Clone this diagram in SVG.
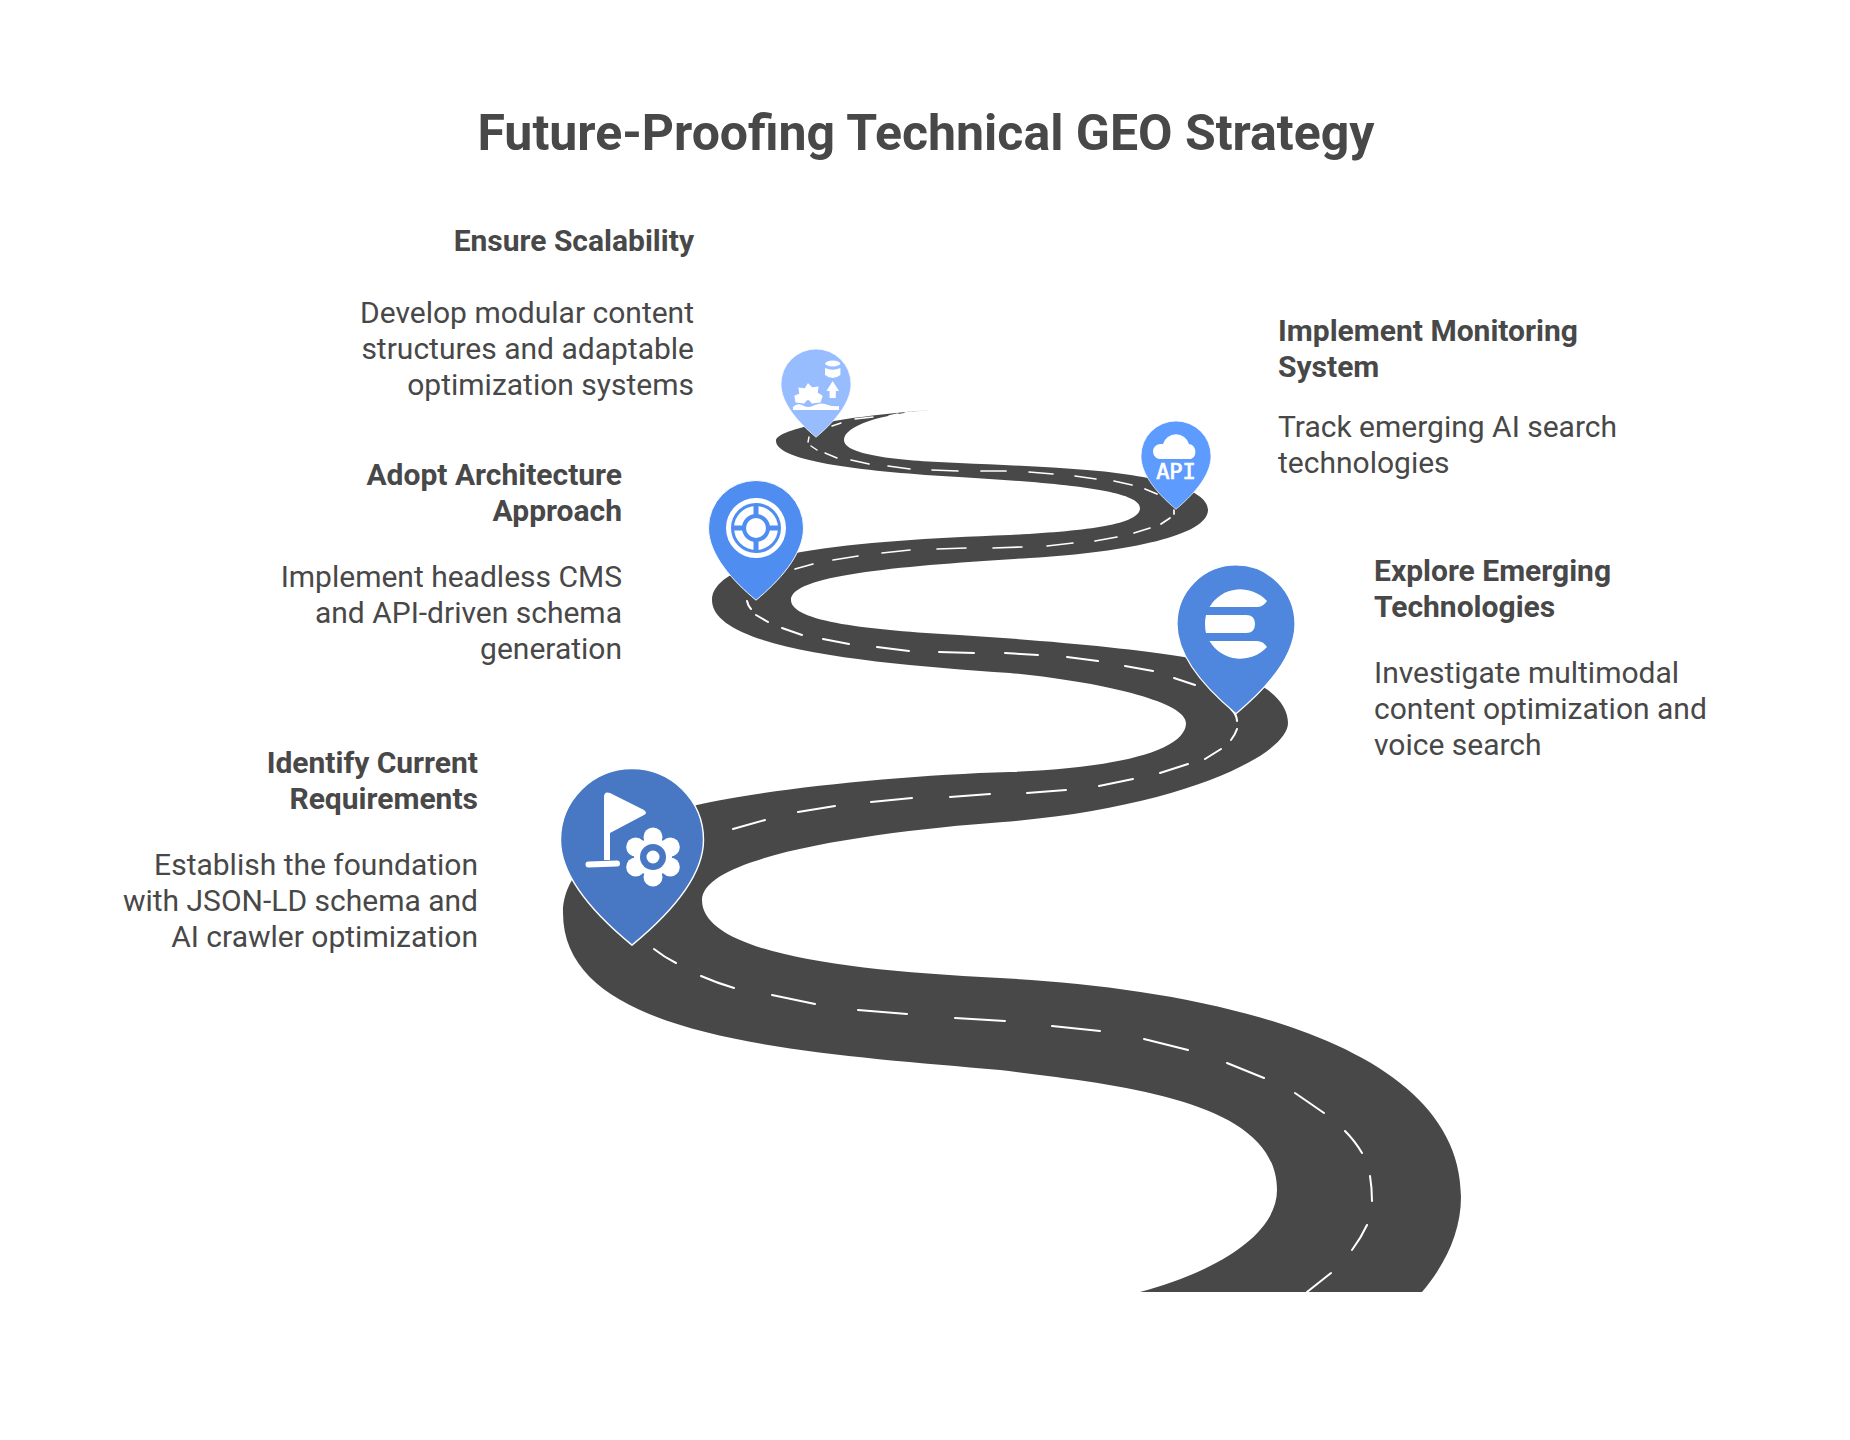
<svg xmlns="http://www.w3.org/2000/svg" width="1850" height="1440" viewBox="0 0 1850 1440">
<style>
text{font-family:Roboto,"Liberation Sans",sans-serif;fill:#484848}
.title{font-size:50px;font-weight:700;text-anchor:middle}
.h{font-size:30px;font-weight:700}
.b{font-size:30px;font-weight:400}
.e{text-anchor:end}
.road{fill:#484848}
.dash{fill:none;stroke:#fff;stroke-linecap:round}
.pin{stroke:#fff;stroke-width:2;vector-effect:non-scaling-stroke}
.w{fill:#fff}
</style>
<defs>
<path id="pinShape" d="M0,147 C45,110 100,55 100,0 A100,100 0 0 0 -100,0 C-100,55 -45,110 0,147Z"/>
<path id="pinShapeB" d="M0,152 C47,113 100,57 100,0 A100,100 0 0 0 -100,0 C-100,57 -47,113 0,152Z"/>
</defs>
<rect width="1850" height="1440" fill="#fff"/>
<text class="title" x="926" y="150">Future-Proofing Technical GEO Strategy</text>

<g id="connectors">
<path class="road" d="M931,410 C880,414 844,426 844,440 C844,456 905,461 959,463 C1005,465 1050,467 1087,470 C1150,475 1208,488 1208,510 C1208,535 1130,552 1030,558 C900,566 791,575 791,600 C791,622 870,630 959,635 C1040,640 1130,648 1184,657 C1250,672 1288,695 1288,723 C1288,755 1180,808 1003,822 C880,831 702,855 702,900 C702,950 830,970 1000,978 C1200,988 1461,1040 1461,1197 C1461,1232 1445,1265 1422,1292 L1140,1292 C1215,1272 1277,1235 1277,1190 C1277,1100 1120,1085 1000,1070 C800,1052 563,1040 563,913 C563,860 630,822 697,805 C760,790 900,775 1010,772 C1120,768 1186,750 1186,723 C1186,703 1110,683 1010,673 C880,664 712,650 712,600 C712,575 760,560 801,552 C860,542 930,538 1010,535 C1085,531 1140,525 1140,508 C1140,490 1060,483 959,477 C870,472 776,462 776,441 C776,428 850,416 931,410Z"/>
<path class="dash" stroke-width="1.4" d="M832,426L841,423M855,419L873,417M889,416L898,414M905,413L912,412M809,437L808,442M811,446L817,450M825,453L837,458"/>
<path class="dash" stroke-width="1.7" d="M851,460L869,464M888,466L910,469M932,470L958,471M981,471L1006,471M1029,472L1053,474M1075,476L1096,479M1114,481L1132,485M1145,489L1157,494M1174,510L1174,514M1170,518L1161,524M1150,528L1134,533M1117,537L1095,541M1073,543L1047,546M1022,547L993,548M966,548L937,549M910,550L882,553M858,556L833,560M813,564L795,569"/>
<path class="dash" stroke-width="2" d="M747,601Q748,606 751,609M756,615L768,622M782,628L802,635M823,639L849,644M877,647L909,651M939,652L974,653M1005,653L1038,655M1067,657L1098,661M1125,666L1153,671M1174,678L1195,685M1231,709Q1237,715 1237,721M1237,729Q1235,735 1231,740M1221,749L1205,759M1188,764L1160,773M1133,779L1099,786M1066,790L1027,793"/>
<path class="dash" stroke-width="2" d="M990,794L950,797M912,798L871,802M835,806L798,812M765,820L733,829M654,949Q664,957 676,963M701,976Q717,983 734,988M772,995L815,1004M858,1010L907,1014M955,1018L1005,1021M1052,1026L1100,1031M1144,1039L1188,1050M1227,1063L1264,1078M1295,1093L1324,1113M1345,1131Q1355,1141 1362,1153M1370,1176Q1372,1188 1372,1201M1367,1225Q1361,1238 1352,1250M1331,1273L1307,1292"/>
</g>

<g id="node-ensure-scalability">
<use href="#pinShapeB" class="pin" fill="#97BDFF" transform="translate(816,384) scale(.35)"/>
<ellipse class="w" cx="832.7" cy="363.5" rx="7.5" ry="3"/>
<path class="w" d="M825,368Q832.7,371.5 840.4,368V375Q832.7,381 825,375Z"/>
<path class="w" d="M832.7,381L839,391H835.8V398H829.6V391H826.4Z"/>
<path class="w" stroke="#fff" stroke-width="1.2" stroke-linejoin="round" d="M795,396L800,394L799,388L805,389L808,384L812,388L818,387L817,393L822,396L820,402L812,403Q808,396 804,403L796,402Z"/>
<path class="w" d="M793,410V407Q797,403 802,405Q808,409 815,405Q822,402 828,405Q834,407 839,406V410Z"/>
<text class="h e" x="694" y="251">Ensure Scalability</text>
<text class="b e" x="694" y="323">Develop modular content</text>
<text class="b e" x="694" y="359">structures and adaptable</text>
<text class="b e" x="694" y="395">optimization systems</text>
</g>

<g id="node-implement-monitoring">
<use href="#pinShapeB" class="pin" fill="#5E9BFF" transform="translate(1176,456) scale(.35)"/>
<path class="w" d="M1161,459A7.5,7.5 0 0 1 1160,444Q1162,444 1163,444A13.5,13.5 0 0 1 1189,444A8,8 0 0 1 1191,459Z"/>
<text x="1176" y="478.5" text-anchor="middle" style="font-family:'DejaVu Sans Mono',monospace;font-size:22px;font-weight:400;fill:#fff;stroke:#fff;stroke-width:.7">API</text>
<text class="h" x="1278" y="341">Implement Monitoring</text>
<text class="h" x="1278" y="377">System</text>
<text class="b" x="1278" y="437">Track emerging AI search</text>
<text class="b" x="1278" y="473">technologies</text>
</g>

<g id="node-adopt-architecture">
<use href="#pinShapeB" class="pin" fill="#4F8DF0" transform="translate(756,528) scale(.475)"/>
<circle cx="756" cy="528" r="27.5" fill="none" stroke="#fff" stroke-width="5"/>
<circle class="w" cx="756" cy="528" r="22"/>
<path d="M756,505V551M733,528H779" stroke="#4F8DF0" stroke-width="5" fill="none"/>
<circle cx="756" cy="528" r="14" fill="#4F8DF0"/>
<circle class="w" cx="756" cy="528" r="10"/>
<text class="h e" x="622" y="485">Adopt Architecture</text>
<text class="h e" x="622" y="521">Approach</text>
<text class="b e" x="622" y="587">Implement headless CMS</text>
<text class="b e" x="622" y="623">and API-driven schema</text>
<text class="b e" x="622" y="659">generation</text>
</g>

<g id="node-explore-emerging">
<use href="#pinShapeB" class="pin" fill="#4F86DE" transform="translate(1236,624) scale(.59)"/>
<path class="w" d="M1209.5,607A36,36 0 0 1 1267,601Q1263,607 1257,607Z"/>
<path class="w" d="M1206,615H1246Q1255,615 1255,624Q1255,633 1246,633H1206Q1204,624 1206,615Z"/>
<path class="w" d="M1209.5,641H1257Q1263,641 1267,647A36,36 0 0 1 1209.5,641Z"/>
<text class="h" x="1374" y="581">Explore Emerging</text>
<text class="h" x="1374" y="617">Technologies</text>
<text class="b" x="1374" y="683">Investigate multimodal</text>
<text class="b" x="1374" y="719">content optimization and</text>
<text class="b" x="1374" y="755">voice search</text>
</g>

<g id="node-identify-requirements">
<use href="#pinShape" class="pin" fill="#4878C4" transform="translate(632,840) scale(.715)"/>
<path class="w" d="M604,797Q604,791 610,793L644,810Q648,813 644,815L610,833V860H604Z"/>
<path d="M588.5,864.5L617,863.5" stroke="#fff" stroke-width="6" stroke-linecap="round" fill="none"/>
<g class="w">
<circle cx="653" cy="857" r="19"/>
<circle cx="653" cy="837" r="9.5"/><circle cx="653" cy="877" r="9.5"/>
<circle cx="635.7" cy="847" r="9.5"/><circle cx="670.3" cy="847" r="9.5"/>
<circle cx="635.7" cy="867" r="9.5"/><circle cx="670.3" cy="867" r="9.5"/>
</g>
<circle cx="653" cy="857" r="13" fill="#4878C4"/>
<circle class="w" cx="653" cy="857" r="6.5"/>
<text class="h e" x="478" y="773">Identify Current</text>
<text class="h e" x="478" y="809">Requirements</text>
<text class="b e" x="478" y="875">Establish the foundation</text>
<text class="b e" x="478" y="911">with JSON-LD schema and</text>
<text class="b e" x="478" y="947">AI crawler optimization</text>
</g>
</svg>
